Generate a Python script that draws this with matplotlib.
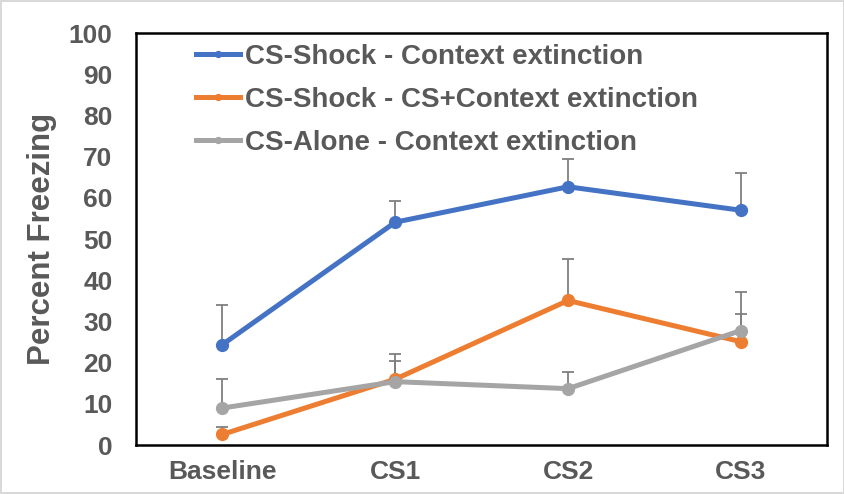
import numpy as np
import matplotlib
matplotlib.use('Agg')
import matplotlib.pyplot as plt

categories = ['Baseline', 'CS1', 'CS2', 'CS3']
labels = ['CS-Shock - Context extinction',
          'CS-Shock - CS+Context extinction',
          'CS-Alone - Context extinction']
shock_ctx = [24.4, 54.1, 62.7, 57.0]
shock_ctx_err = [9.7, 5.2, 6.8, 9.1]
shock_cs_ctx = [2.6, 16.0, 35.1, 25.1]
shock_cs_ctx_err = [1.8, 6.2, 10.0, 12.0]
alone_ctx = [9.0, 15.4, 13.7, 27.8]
alone_ctx_err = [7.1, 5.1, 4.1, 3.9]

series = [shock_ctx, shock_cs_ctx, alone_ctx]
errors = [shock_ctx_err, shock_cs_ctx_err, alone_ctx_err]
colors = ['#4472C4', '#ED7D31', '#A5A5A5']
text_color = '#595959'

plt.rcParams['font.family'] = ['Liberation Sans', 'DejaVu Sans']

fig = plt.figure(figsize=(8.45, 4.94), dpi=100)
fig.patch.set_edgecolor('#d9d9d9')
fig.patch.set_linewidth(1.5)
ax = fig.add_axes([0.161, 0.099, 0.818, 0.834])

x = np.arange(len(categories))
for vals, err, col, lab in zip(series, errors, colors, labels):
    ax.errorbar(x, vals, yerr=[np.zeros(len(err)), err], fmt='none',
                ecolor='#7f7f7f', elinewidth=1.3, capsize=4.5, capthick=1.3, zorder=2)
    ax.plot(x, vals, '-o', color=col, lw=3.6, markersize=8.5, label=lab, zorder=3)

ax.set_xlim(-0.5, 3.5)
ax.set_ylim(0, 100)
ax.set_yticks(range(0, 101, 10))
ax.set_xticks(x)
ax.set_xticklabels(categories)
ax.tick_params(length=0, labelsize=19, labelcolor=text_color)
ax.tick_params(axis='x', pad=11)
ax.tick_params(axis='y', pad=17)
for t in ax.get_xticklabels() + ax.get_yticklabels():
    t.set_fontweight('bold')
for s in ax.spines.values():
    s.set_color('black')
    s.set_linewidth(1.8)

ax.set_ylabel('Percent Freezing', fontsize=22.5, fontweight='bold', color=text_color, labelpad=8)

leg = ax.legend(loc='upper left', bbox_to_anchor=(0.050, 1.035), frameon=False,
                handlelength=1.6, handletextpad=0.18, labelspacing=0.62,
                prop={'size': 20, 'weight': 'bold'}, markerscale=0.5)
for t in leg.get_texts():
    t.set_color(text_color)

plt.savefig('out.png', dpi=100)
plt.close()
